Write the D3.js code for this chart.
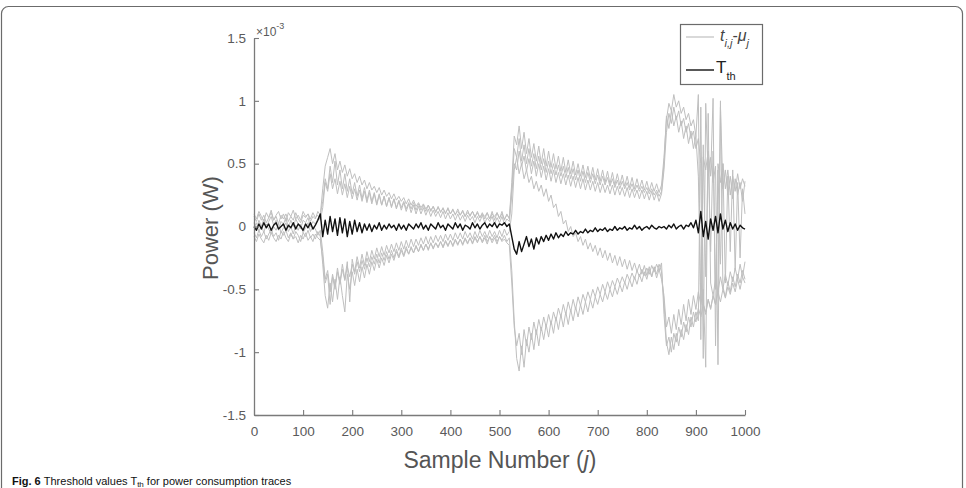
<!DOCTYPE html>
<html>
<head>
<meta charset="utf-8">
<script src="https://cdn.jsdelivr.net/npm/d3@7"></script>
<style>
  html, body { margin: 0; padding: 0; background: #fff; }
  svg { display: block; }
  text { font-family: "Liberation Sans", Arial, Helvetica, sans-serif; }
</style>
</head>
<body>
<svg id="chart" width="966" height="488"></svg>
<script>
// ---- Data (values in units of 1e-3 W), sample step 5 from 0 to 1000 ----
const xTicks = [0, 100, 200, 300, 400, 500, 600, 700, 800, 900, 1000];
const yTicks = [-1.5, -1, -0.5, 0, 0.5, 1, 1.5];
const legendLabels = ["t", "T"];

// Gray traces t_{i,j} - mu_j
const trace1 = [
  0.08,0.04,0.10,0.05,0.09,0.03,0.07,0.11,0.05,0.08,0.02,0.09,0.06,0.10,0.04,0.08,0.05,0.11,0.06,0.03,0.09,0.07,0.10,0.04,0.08,0.06,0.12,0.09,
  0.30,0.48,0.55,0.62,0.50,0.58,0.45,0.52,0.43,0.49,0.40,0.46,0.38,0.42,0.35,0.40,0.33,0.37,0.30,0.35,0.29,0.32,0.27,0.31,0.25,0.29,0.24,0.27,
  0.22,0.26,0.21,0.24,0.20,0.23,0.18,0.22,0.17,0.21,0.16,0.19,0.15,0.18,0.14,0.17,0.13,0.16,0.12,0.15,0.12,0.14,0.11,0.14,0.10,0.13,0.10,0.12,
  0.09,0.12,0.08,0.11,0.09,0.12,0.08,0.11,0.07,0.10,0.08,0.11,0.06,0.10,0.08,0.11,0.07,0.10,0.06,0.09,0.07,
  0.35,0.72,0.65,0.80,0.62,0.75,0.58,0.70,0.55,0.66,0.52,0.64,0.50,0.62,0.48,0.60,0.47,0.58,0.46,0.56,0.44,0.55,0.43,0.53,0.42,0.52,0.41,0.50,
  0.40,0.49,0.39,0.48,0.38,0.47,0.37,0.46,0.36,0.45,0.35,0.44,0.34,0.43,0.33,0.42,0.33,0.41,0.32,0.40,0.31,0.39,0.30,0.38,0.30,0.37,0.29,0.36,
  0.28,0.35,0.28,0.34,0.27,0.33,
  0.55,0.85,0.98,0.92,1.05,0.95,1.00,0.90,0.95,0.85,0.90,0.80,0.85,0.72,1.05,-0.90,0.55,0.45,0.60,0.40,1.02,-0.95,0.50,0.35,0.50,0.30,0.45,0.25,
  0.40,0.28,0.42,0.30,0.38,0.32
];
const trace2 = [
  0.03,-0.02,0.05,0.00,0.06,-0.01,0.04,0.08,0.01,0.05,-0.03,0.04,0.02,0.07,-0.01,0.05,0.00,0.06,0.02,-0.02,0.05,0.03,0.07,0.00,0.04,0.02,0.06,0.10,
  0.20,0.38,0.30,0.48,0.35,0.52,0.33,0.45,0.30,0.42,0.28,0.38,0.26,0.35,0.24,0.33,0.22,0.31,0.21,0.29,0.20,0.27,0.18,0.26,0.17,0.24,0.16,0.23,
  0.15,0.22,0.14,0.20,0.13,0.19,0.12,0.18,0.11,0.17,0.10,0.16,0.10,0.15,0.09,0.14,0.08,0.13,0.08,0.12,0.07,0.12,0.06,0.11,0.06,0.10,0.05,0.10,
  0.05,0.09,0.04,0.09,0.05,0.08,0.03,0.08,0.04,0.09,0.03,0.07,0.04,0.08,0.02,0.07,0.03,0.08,0.02,0.06,0.04,
  0.25,0.50,0.45,0.60,0.48,0.56,0.44,0.54,0.42,0.52,0.40,0.50,0.39,0.48,0.37,0.46,0.36,0.45,0.35,0.43,0.34,0.42,0.33,0.41,0.32,0.40,0.31,0.39,
  0.30,0.38,0.29,0.37,0.29,0.36,0.28,0.35,0.27,0.34,0.27,0.33,0.26,0.33,0.25,0.32,0.25,0.31,0.24,0.31,0.23,0.30,0.23,0.29,0.22,0.29,0.22,0.28,
  0.21,0.28,0.21,0.27,0.20,0.26,
  0.45,0.75,0.90,0.82,0.95,0.85,0.92,0.80,0.86,0.75,0.82,0.70,0.76,0.62,0.70,0.50,-1.05,0.98,0.40,0.55,0.35,0.48,-1.10,0.95,0.30,0.45,0.25,0.40,
  0.22,0.38,0.25,0.35,0.20,0.36
];
const trace3 = [
  -0.05,-0.09,-0.03,-0.08,-0.04,-0.10,-0.06,-0.02,-0.08,-0.05,-0.11,-0.04,-0.07,-0.03,-0.09,-0.05,-0.10,-0.04,-0.07,-0.12,-0.05,-0.08,-0.03,-0.09,-0.06,-0.10,-0.04,-0.08,
  -0.30,-0.55,-0.65,-0.45,-0.60,-0.42,-0.58,-0.40,-0.55,-0.68,-0.38,-0.50,-0.36,-0.47,-0.34,-0.44,-0.32,-0.41,-0.30,-0.38,-0.28,-0.35,-0.26,-0.33,-0.25,-0.31,-0.23,-0.29,
  -0.22,-0.27,-0.20,-0.25,-0.19,-0.24,-0.18,-0.22,-0.17,-0.21,-0.16,-0.20,-0.15,-0.19,-0.14,-0.18,-0.13,-0.17,-0.13,-0.16,-0.12,-0.16,-0.11,-0.15,-0.11,-0.15,-0.10,-0.14,
  -0.10,-0.14,-0.09,-0.13,-0.09,-0.13,-0.08,-0.12,-0.08,-0.12,-0.07,-0.12,-0.08,-0.11,-0.07,-0.12,-0.08,-0.11,-0.07,-0.12,-0.09,
  -0.35,-0.75,-1.05,-1.15,-0.95,-1.12,-0.90,-1.00,-0.85,-0.98,-0.82,-0.95,-0.80,-0.90,-0.78,-0.88,-0.75,-0.85,-0.72,-0.82,-0.70,-0.80,-0.68,-0.78,-0.66,-0.75,-0.64,-0.72,
  -0.62,-0.70,-0.60,-0.68,-0.58,-0.65,-0.56,-0.62,-0.54,-0.60,-0.52,-0.58,-0.50,-0.56,-0.48,-0.54,-0.46,-0.52,-0.44,-0.50,-0.42,-0.48,-0.40,-0.46,-0.38,-0.44,-0.36,-0.42,
  -0.34,-0.40,-0.32,-0.38,-0.30,-0.36,
  -0.60,-0.92,-1.02,-0.88,-0.98,-0.85,-0.95,-0.82,-0.90,-0.78,-0.86,-0.72,-0.80,-0.68,-0.75,0.95,-0.62,-0.70,-0.58,-0.65,-0.55,-0.62,-0.50,1.00,-0.48,-0.56,-0.44,-0.52,
  -0.40,-0.48,-0.38,-0.45,-0.35,-0.42
];
const trace4 = [
  -0.01,0.03,-0.04,0.01,-0.05,0.02,-0.02,-0.06,0.00,-0.03,0.02,-0.05,-0.01,0.03,-0.04,0.00,-0.06,0.01,-0.03,0.02,-0.05,-0.01,0.03,-0.04,0.00,-0.02,-0.07,-0.03,
  -0.20,-0.42,-0.35,-0.52,-0.38,-0.48,-0.33,-0.45,-0.30,-0.42,-0.28,-0.60,-0.26,-0.36,-0.24,-0.33,-0.22,-0.31,-0.20,-0.28,-0.19,-0.26,-0.17,-0.24,-0.16,-0.23,-0.15,-0.21,
  -0.14,-0.20,-0.13,-0.19,-0.12,-0.18,-0.11,-0.17,-0.10,-0.16,-0.10,-0.15,-0.09,-0.14,-0.08,-0.14,-0.08,-0.13,-0.07,-0.12,-0.07,-0.12,-0.06,-0.11,-0.06,-0.11,-0.05,-0.10,
  -0.05,-0.10,-0.04,-0.09,-0.05,-0.10,-0.04,-0.09,-0.03,-0.08,-0.04,-0.09,-0.03,-0.08,-0.04,-0.09,-0.03,-0.08,-0.02,-0.07,-0.04,
  0.10,0.45,0.55,0.42,0.50,0.38,0.45,0.35,0.40,0.30,0.36,0.28,0.33,0.24,0.30,0.20,0.25,0.15,0.18,0.08,0.12,0.02,0.05,-0.04,0.00,-0.08,-0.05,-0.12,
  -0.08,-0.15,-0.10,-0.18,-0.13,-0.20,-0.15,-0.23,-0.17,-0.25,-0.19,-0.27,-0.21,-0.29,-0.23,-0.31,-0.24,-0.32,-0.26,-0.34,-0.27,-0.35,-0.29,-0.36,-0.30,-0.38,-0.31,-0.39,
  -0.32,-0.40,-0.33,-0.41,-0.34,-0.42,
  -0.55,-0.80,-0.72,-0.85,-0.70,-0.82,-0.66,-0.78,-0.62,-0.75,-0.58,-0.70,-0.55,-0.66,-0.52,-0.62,-0.50,-1.12,0.90,-0.45,-0.55,-0.42,-0.52,-0.40,-0.50,-0.38,-0.47,-0.36,
  -0.44,-0.33,-0.42,-0.30,-0.40,-0.28
];
const trace5 = [
  0.10,0.06,0.12,0.08,0.04,0.11,0.07,0.13,0.05,0.09,0.12,0.06,0.10,0.04,0.11,0.08,0.13,0.06,0.09,0.05,0.12,0.08,0.10,0.06,0.11,0.07,0.09,0.05,
  0.15,0.35,0.28,0.42,0.30,0.38,0.26,0.36,0.25,0.34,0.23,0.32,0.22,0.30,0.21,0.29,0.20,0.28,0.19,0.27,0.18,0.26,0.17,0.25,0.17,0.24,0.16,0.23,
  0.16,0.22,0.15,0.21,0.15,0.20,0.14,0.19,0.14,0.19,0.13,0.18,0.13,0.17,0.12,0.17,0.12,0.16,0.11,0.16,0.11,0.15,0.10,0.15,0.10,0.14,0.09,0.14,
  0.09,0.13,0.08,0.13,0.08,0.12,0.07,0.12,0.07,0.11,0.06,0.11,0.06,0.12,0.05,0.11,0.06,0.12,0.05,0.10,0.06,
  0.30,0.62,0.55,0.70,0.52,0.65,0.50,0.62,0.48,0.58,0.46,0.56,0.45,0.54,0.43,0.52,0.42,0.50,0.41,0.49,0.40,0.48,0.39,0.47,0.38,0.46,0.37,0.45,
  0.36,0.44,0.35,0.43,0.35,0.42,0.34,0.41,0.33,0.40,0.33,0.39,0.32,0.38,0.31,0.37,0.30,0.36,0.30,0.35,0.29,0.34,0.28,0.33,0.28,0.32,0.27,0.31,
  0.26,0.30,0.25,0.29,0.24,0.28,
  0.50,0.88,0.78,0.92,0.80,0.88,0.75,0.84,0.70,0.80,0.66,0.76,0.62,0.72,0.40,-0.60,0.65,-0.40,0.55,-0.20,0.60,-0.50,0.45,-0.30,0.50,-0.45,0.40,-0.20,
  0.45,-0.35,0.35,-0.25,0.30,0.10
];
const trace6 = [
  -0.08,-0.12,-0.06,-0.10,-0.13,-0.07,-0.11,-0.05,-0.09,-0.12,-0.07,-0.10,-0.04,-0.09,-0.12,-0.06,-0.10,-0.08,-0.13,-0.07,-0.10,-0.05,-0.11,-0.08,-0.12,-0.06,-0.09,-0.11,
  -0.25,-0.45,-0.38,-0.62,-0.40,-0.50,-0.36,-0.46,-0.34,-0.43,-0.32,-0.40,-0.30,-0.38,-0.28,-0.36,-0.27,-0.34,-0.25,-0.32,-0.24,-0.30,-0.22,-0.29,-0.21,-0.27,-0.20,-0.26,
  -0.19,-0.25,-0.18,-0.24,-0.17,-0.23,-0.16,-0.22,-0.16,-0.21,-0.15,-0.20,-0.14,-0.19,-0.14,-0.19,-0.13,-0.18,-0.13,-0.17,-0.12,-0.17,-0.12,-0.16,-0.11,-0.16,-0.11,-0.15,
  -0.10,-0.15,-0.10,-0.14,-0.09,-0.14,-0.09,-0.13,-0.08,-0.13,-0.09,-0.14,-0.08,-0.13,-0.09,-0.14,-0.08,-0.12,-0.10,-0.13,-0.15,
  -0.45,-0.80,-0.95,-0.85,-1.02,-0.82,-0.95,-0.80,-0.90,-0.76,-0.86,-0.74,-0.83,-0.72,-0.80,-0.70,-0.78,-0.68,-0.75,-0.65,-0.72,-0.62,-0.70,-0.60,-0.68,-0.58,-0.66,-0.56,
  -0.63,-0.54,-0.60,-0.52,-0.58,-0.50,-0.56,-0.48,-0.54,-0.46,-0.52,-0.44,-0.50,-0.43,-0.48,-0.41,-0.46,-0.40,-0.45,-0.38,-0.43,-0.37,-0.42,-0.35,-0.40,-0.34,-0.39,-0.33,
  -0.38,-0.31,-0.36,-0.30,-0.35,-0.29,
  -0.70,-0.95,-0.88,-1.00,-0.85,-0.92,-0.80,-0.88,-0.76,-0.84,-0.72,-0.80,-0.68,-0.76,-0.65,-0.72,-0.62,-0.68,-0.58,-0.66,-0.55,-0.62,-0.52,-0.60,-0.50,-0.57,-0.48,-0.54,
  -0.45,-0.52,-0.42,-0.50,-0.40,-0.45
];
// Black threshold T_th
const threshold = [
  0.00,-0.03,0.02,-0.02,0.03,-0.01,0.02,-0.03,0.01,0.03,-0.02,0.00,0.02,-0.03,0.01,-0.01,0.03,-0.02,0.02,0.00,-0.03,0.02,-0.01,0.03,-0.02,0.01,0.05,0.10,
  -0.08,0.05,-0.06,0.08,-0.04,0.06,-0.07,0.07,-0.05,0.06,-0.08,0.04,-0.06,0.05,-0.04,0.03,-0.05,0.02,-0.03,0.02,-0.04,0.01,-0.02,0.03,-0.03,0.01,-0.02,0.02,
  -0.01,0.01,-0.03,0.02,-0.02,0.01,-0.03,0.02,0.00,-0.02,0.02,-0.01,0.03,-0.02,0.01,-0.03,0.02,0.00,-0.02,0.03,-0.01,0.01,-0.03,0.02,0.00,-0.02,0.03,-0.01,
  0.02,-0.03,0.01,0.00,-0.02,0.03,-0.01,0.02,-0.02,0.01,0.03,-0.01,0.02,0.00,0.03,-0.01,0.02,0.01,0.03,0.00,0.02,
  -0.08,-0.18,-0.22,-0.12,-0.20,-0.14,-0.08,-0.16,-0.10,-0.18,-0.09,-0.14,-0.08,-0.12,-0.07,-0.11,-0.06,-0.10,-0.05,-0.09,-0.06,-0.08,-0.04,-0.07,-0.05,-0.06,-0.03,-0.06,
  -0.04,-0.05,-0.02,-0.05,-0.03,-0.04,-0.01,-0.04,-0.02,-0.03,-0.01,-0.04,-0.02,-0.03,0.00,-0.03,-0.01,-0.02,0.00,-0.03,-0.01,-0.02,0.01,-0.02,0.00,-0.03,-0.01,0.00,
  -0.02,0.01,-0.01,-0.02,0.00,-0.01,
  0.00,-0.02,0.01,-0.01,0.02,-0.02,0.00,0.01,-0.02,0.01,0.00,0.03,-0.01,0.05,-0.05,0.12,-0.08,0.04,-0.10,0.06,-0.03,0.08,-0.05,0.10,-0.02,0.05,-0.04,0.03,
  -0.02,0.02,-0.03,0.01,-0.01,-0.02
];
const grayTraces = [trace1, trace2, trace3, trace4, trace5, trace6];

// ---- Layout ----
const svg = d3.select("#chart");
const plot = { left: 254, right: 745, top: 38, bottom: 415 };

// outer rounded frame
svg.append("rect")
  .attr("x", 1.5).attr("y", 6.5).attr("width", 961).attr("height", 500)
  .attr("rx", 7).attr("fill", "#fff").attr("stroke", "#6b6b6b").attr("stroke-width", 1.2);

const x = d3.scaleLinear().domain([0, 1000]).range([plot.left, plot.right]);
const y = d3.scaleLinear().domain([-1.5, 1.5]).range([plot.bottom, plot.top]);

function lineFor(arr) {
  const n = arr.length;
  return d3.line()
    .x((d, i) => x(i * 1000 / (n - 1)))
    .y(d => y(d))(arr);
}

const g = svg.append("g");
grayTraces.forEach(tr => {
  g.append("path").attr("d", lineFor(tr))
    .attr("fill", "none").attr("stroke", "#bfbfbf").attr("stroke-width", 1)
    .attr("stroke-linejoin", "round");
});
g.append("path").attr("d", lineFor(threshold))
  .attr("fill", "none").attr("stroke", "#111").attr("stroke-width", 1.4)
  .attr("stroke-linejoin", "round");

// axes
const axisColor = "#7a7a7a";
const labelColor = "#5a5a5a";
const xAxis = svg.append("g").attr("transform", `translate(0,${plot.bottom})`)
  .call(d3.axisBottom(x).tickValues(xTicks).tickSizeInner(-5).tickSizeOuter(0).tickPadding(11).tickFormat(d3.format("d")));
const yAxis = svg.append("g").attr("transform", `translate(${plot.left},0)`)
  .call(d3.axisLeft(y).tickValues(yTicks).tickSizeInner(-5).tickSizeOuter(0).tickPadding(8).tickFormat(d => String(d)));
[xAxis, yAxis].forEach(a => {
  a.select(".domain").attr("stroke", axisColor).attr("stroke-width", 1.3);
  a.selectAll(".tick line").attr("stroke", axisColor).attr("stroke-width", 1.1);
  a.selectAll(".tick text").attr("fill", labelColor).attr("font-size", 13.5)
    .attr("font-family", "Liberation Sans, Arial, sans-serif");
});

// exponent label
const ex = svg.append("text").attr("x", 256).attr("y", 36).attr("fill", labelColor).attr("font-size", 12);
ex.append("tspan").text("×10");
ex.append("tspan").attr("dy", -7).attr("font-size", 9).text("-3");

// axis titles
svg.append("text").attr("x", 500).attr("y", 468).attr("text-anchor", "middle")
  .attr("fill", "#555").attr("font-size", 23)
  .call(t => {
    t.append("tspan").text("Sample Number (");
    t.append("tspan").attr("font-style", "italic").text("j");
    t.append("tspan").text(")");
  });
svg.append("text").attr("transform", "translate(218,228) rotate(-90)").attr("text-anchor", "middle")
  .attr("fill", "#555").attr("font-size", 22).text("Power (W)");

// legend
const lg = svg.append("g");
lg.append("rect").attr("x", 680.5).attr("y", 24.5).attr("width", 82).attr("height", 60)
  .attr("fill", "#fff").attr("stroke", "#6b6b6b").attr("stroke-width", 1.2);
lg.append("line").attr("x1", 686).attr("x2", 714).attr("y1", 37).attr("y2", 37)
  .attr("stroke", "#bfbfbf").attr("stroke-width", 1.2);
lg.append("line").attr("x1", 686).attr("x2", 714).attr("y1", 70).attr("y2", 70)
  .attr("stroke", "#111").attr("stroke-width", 1.4);
const l1 = lg.append("text").attr("x", 720).attr("y", 41).attr("fill", "#444").attr("font-size", 16);
l1.append("tspan").attr("font-style", "italic").text(legendLabels[0]);
l1.append("tspan").attr("font-style", "italic").attr("font-size", 11).attr("dy", 6).text("i,j");
l1.append("tspan").attr("dy", -6).text("-");
l1.append("tspan").attr("font-style", "italic").text("μ");
l1.append("tspan").attr("font-style", "italic").attr("font-size", 11).attr("dy", 6).text("j");
const l2 = lg.append("text").attr("x", 716).attr("y", 73).attr("fill", "#222").attr("font-size", 17);
l2.append("tspan").text(legendLabels[1]);
l2.append("tspan").attr("font-size", 11).attr("dy", 7).text("th");

// caption at the bottom edge
const cap = svg.append("text").attr("x", 12).attr("y", 485).attr("fill", "#111").attr("font-size", 11);
cap.append("tspan").attr("font-weight", "bold").text("Fig. 6 ");
cap.append("tspan").text("Threshold values T");
cap.append("tspan").attr("font-size", 8).attr("dy", 2).text("th");
cap.append("tspan").attr("dy", -2).text(" for power consumption traces");
</script>
</body>
</html>
